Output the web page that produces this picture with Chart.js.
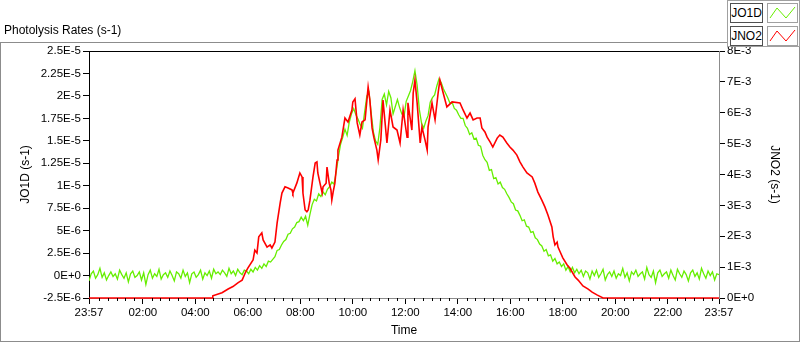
<!DOCTYPE html>
<html>
<head>
<meta charset="utf-8">
<script src="https://cdn.jsdelivr.net/npm/chart.js@4.4.1/dist/chart.umd.min.js"></script>
<style>
  body { margin: 0; background: #fff; font-family: 'Liberation Sans', Arial, sans-serif; }
  #wrap { position: relative; width: 800px; height: 342px; overflow: hidden; }
  #panel { position: absolute; left: 0; top: 42px; width: 800px; height: 300px; box-sizing: border-box; border: 1px solid #8c8c8c; }
  #c { position: absolute; left: 0; top: 0; }
  #title { position: absolute; left: 4px; top: 23px; font-size: 12px; color: #000; white-space: nowrap; }
  #legend { position: absolute; left: 727px; top: 0; width: 73px; height: 47px; box-sizing: border-box; border: 1px solid #a0a0a0; background: #fff; }
  .row { position: absolute; left: 2px; height: 20px; }
  .name { position: absolute; left: 0; top: 0; width: 33px; height: 20px; box-sizing: border-box; border: 1px solid #505050; font-size: 12px; line-height: 18px; text-align: center; color: #000; }
  .icon { position: absolute; left: 37px; top: 0; width: 31px; height: 20px; box-sizing: border-box; border: 1px solid #a0a0a0; }
  .icon svg { position: absolute; left: 0; top: 0; }
</style>
</head>
<body>
<div id="wrap">
  <div id="panel"></div>
  <canvas id="c" width="800" height="342"></canvas>
  <div id="title">Photolysis Rates (s-1)</div>
  <div id="legend">
    <div class="row" style="top:2px">
      <div class="name">JO1D</div>
      <div class="icon"><svg width="29" height="18"><polyline points="2,14 9,4 18,14 27,3" fill="none" stroke="#66ee00" stroke-width="1"/></svg></div>
    </div>
    <div class="row" style="top:25px">
      <div class="name">JNO2</div>
      <div class="icon"><svg width="29" height="18"><polyline points="2,14 9,4 18,14 27,3" fill="none" stroke="#ff0000" stroke-width="1"/></svg></div>
    </div>
  </div>
</div>
<script>
// time axis in minutes from midnight, 23:57 of previous day = -3
const timeTicks = [-3, 120, 240, 360, 480, 600, 720, 840, 960, 1080, 1200, 1320, 1437];
const timeTickLabels = ['23:57', '02:00', '04:00', '06:00', '08:00', '10:00', '12:00', '14:00', '16:00', '18:00', '20:00', '22:00', '23:57'];
const jo1dTicks = [-2.5e-6, 0, 2.5e-6, 5e-6, 7.5e-6, 1e-5, 1.25e-5, 1.5e-5, 1.75e-5, 2e-5, 2.25e-5, 2.5e-5];
const jno2Ticks = [0, 1e-3, 2e-3, 3e-3, 4e-3, 5e-3, 6e-3, 7e-3, 8e-3];

// JO1D, one value every 5 minutes from 23:57, in 1E-6 s-1
const jo1dStart = -3;
const jo1dStep = 5;
const jo1d = [
  -0.6, 0.2, 0.5, -0.3, 0.1, 0.8, -0.2, 0.3, -0.5, 0.0, 0.4, -0.1,
  0.2, -0.4, 0.6, 0.1, -0.3, 0.3, -0.7, 0.2, 0.5, -0.2, 0.0, 0.4,
  -0.5, 0.3, -1.0, 0.1, 0.6, -0.3, 0.2, -0.1, 0.7, -0.4, 0.1, 0.3,
  -0.2, 0.5, 0.0, -0.6, 0.4, 0.2, -0.3, 0.6, -0.1, 0.3, -0.8, 0.2,
  0.4, -0.2, 0.1, 0.6, -0.4, 0.3, 0.0, 0.5, -0.3, 0.7, 0.2, 0.4,
  0.1, 0.6, 0.3, -0.1, 0.8, 0.2, 0.5, 0.0, 0.7, 0.3, 0.1, 0.6,
  0.5, 0.2, 0.7, 0.4, 0.9, 0.6, 1.1, 0.8, 1.3, 1.0, 1.6, 1.5,
  1.8, 2.1, 2.8, 2.9, 3.4, 3.8, 4.0, 4.6, 4.7, 5.2, 5.4, 5.9,
  6.0, 6.5, 6.1, 6.6, 5.6, 6.8, 7.9, 8.5, 8.3, 9.1, 8.8, 9.3,
  9.0, 9.6, 9.9, 10.4, 10.2, 11.5, 13.2, 14.6, 15.4, 16.3, 15.6, 17.1,
  18.0, 18.6, 17.9, 17.4, 16.8, 16.4, 18.2, 20.0, 20.4, 18.1, 16.0, 15.0,
  14.6, 16.5, 19.6, 20.2, 19.0, 20.5, 19.8, 18.0, 18.8, 19.6, 18.7, 18.0,
  17.7, 19.4, 20.0, 20.6, 21.6, 22.8, 21.2, 18.5, 17.0, 16.4, 17.2, 17.8,
  19.3, 19.8, 20.1, 21.1, 21.9, 21.5, 20.8, 20.3, 19.8, 19.2, 19.3, 18.6,
  18.4, 17.9, 17.5, 17.5, 16.7, 16.4, 15.7, 15.9, 15.2, 15.3, 14.5, 14.4,
  13.4, 12.9, 12.6, 11.7, 11.8, 10.8, 10.9, 10.2, 10.4, 9.8, 9.6, 9.1,
  8.7, 8.2, 8.0, 7.3, 7.2, 6.7, 6.1, 6.2, 5.5, 5.4, 4.8, 4.9,
  4.2, 4.0, 3.5, 3.3, 2.7, 2.9, 2.2, 2.3, 1.6, 1.9, 1.3, 1.5,
  1.0, 1.3, 0.6, 1.0, 0.4, 0.9, 0.3, 0.7, 0.2, 0.6, -0.1, 0.5,
  0.3, -0.4, 0.5, 0.0, 0.6, -0.2, 0.2, 0.7, -0.5, 0.1, 0.4, -0.1,
  0.5, -0.3, 0.2, 0.0, 0.8, -0.2, 0.3, -0.6, 0.4, 0.1, 0.6, -0.1,
  0.2, 0.4, -0.4, 0.9, 0.1, -0.2, 0.5, -0.8, 0.3, 0.6, -0.1, 0.2,
  0.4, -0.3, 0.6, 0.0, -0.5, 0.7, 0.2, -0.2, 0.5, 0.1, -0.6, 0.3,
  0.6, -0.1, 0.3, -0.4, 0.8, 0.2, -0.3, 0.5, 0.0, 0.4, -0.5, 0.2, 0.1
];

// JNO2, minutes from midnight and value in 1E-3 s-1
const jno2Times = [-3, 279, 280, 301, 315, 326, 338, 347, 354, 360, 372, 376, 381, 385, 392, 395, 404, 411, 415, 422, 427,
  429, 434, 438, 445, 452, 461, 463, 472, 479, 484, 486, 491, 495, 498, 502, 509, 514, 518, 520, 525,
  530, 532, 539, 541, 546, 550, 552, 555, 559, 564, 566, 575, 582, 589, 598, 600, 605, 610, 616, 621,
  628, 635, 639, 644, 648, 655, 658, 664, 669, 678, 685, 692, 701, 708, 715, 724, 726, 735, 738, 742,
  747, 754, 758, 765, 770, 772, 781, 788, 795, 799, 806, 815, 827, 845, 852, 861, 868, 875, 884, 891,
  895, 902, 907, 914, 920, 930, 936, 943, 952, 959, 966, 975, 982, 989, 998, 1010, 1016, 1023, 1032, 1039,
  1046, 1055, 1058, 1062, 1067, 1069, 1074, 1080, 1090, 1096, 1108, 1115, 1126, 1138, 1147, 1158, 1172, 1437];
const jno2 = [0, 0, 0.07, 0.17, 0.29, 0.37, 0.50, 0.58, 0.81, 0.97, 1.23, 1.55, 1.46, 1.98, 2.11, 1.88, 1.65, 1.72, 1.62, 1.81, 2.43,
  2.62, 3.08, 3.40, 3.60, 3.56, 3.50, 3.40, 3.72, 4.05, 3.92, 3.40, 2.85, 2.79, 2.85, 3.17, 3.92, 4.37, 4.41, 4.05, 3.72,
  3.40, 3.60, 3.72, 4.24, 3.72, 3.50, 3.17, 3.43, 3.72, 4.47, 4.79, 5.21, 5.83, 5.70, 6.09, 6.35, 6.45, 5.67, 5.28, 5.70,
  5.77, 6.83, 6.41, 5.51, 5.21, 4.79, 4.47, 5.12, 6.41, 5.02, 6.09, 5.54, 5.44, 5.02, 6.09, 5.21, 6.32, 5.44, 6.64, 7.06,
  6.32, 5.02, 5.54, 5.12, 4.79, 5.54, 6.32, 5.77, 6.64, 7.06, 6.67, 6.19, 6.35, 6.32, 6.09, 5.83, 5.99, 5.77, 5.83, 5.83,
  5.51, 5.38, 5.21, 5.05, 4.89, 5.18, 5.28, 5.21, 5.02, 4.89, 4.79, 4.63, 4.41, 4.24, 4.05, 3.92, 3.72, 3.43, 3.17, 2.95,
  2.69, 2.30, 1.98, 1.72, 1.81, 1.65, 1.49, 1.30, 1.07, 0.97, 0.68, 0.58, 0.39, 0.29, 0.19, 0.10, 0, 0];

const tickFont = { family: 'Liberation Sans', size: 11.5 };
const titleFont = { family: 'Liberation Sans', size: 12 };

function expLabel(v) {
    return v.toExponential().toUpperCase();
}

// top border of the plot and the small ticks of the time axis
const frame = {
    id: 'frame',
    afterDraw(chart) {
        const ctx = chart.ctx;
        const a = chart.chartArea;
        const xs = chart.scales.x;
        ctx.save();
        ctx.strokeStyle = '#000';
        ctx.lineWidth = 1;
        ctx.beginPath();
        ctx.moveTo(a.left, a.top + 0.5);
        ctx.lineTo(a.right, a.top + 0.5);
        for (let m = 20; m < 1437; m += 20) {
            if (m % 120 === 0) continue;
            const x = Math.round(xs.getPixelForValue(m)) + 0.5;
            ctx.moveTo(x, a.bottom);
            ctx.lineTo(x, a.bottom + 3);
        }
        ctx.stroke();
        ctx.restore();
    }
};

new Chart(document.getElementById('c'), {
    type: 'line',
    data: {
        datasets: [{
            label: 'JO1D',
            data: jo1d.map((v, i) => ({ x: jo1dStart + i * jo1dStep, y: v * 1e-6 })),
            yAxisID: 'y',
            borderColor: '#66ee00',
            borderWidth: 1.3,
            pointRadius: 0,
            tension: 0,
            order: 2
        }, {
            label: 'JNO2',
            data: jno2.map((v, i) => ({ x: jno2Times[i], y: v * 1e-3 })),
            yAxisID: 'y1',
            borderColor: '#ff0000',
            borderWidth: 1.6,
            pointRadius: 0,
            tension: 0,
            clip: 4,
            order: 1
        }]
    },
    options: {
        responsive: false,
        animation: false,
        devicePixelRatio: 1,
        layout: { padding: { top: 51 } },
        plugins: { legend: { display: false }, tooltip: { enabled: false } },
        scales: {
            x: {
                type: 'linear',
                min: -3,
                max: 1437,
                afterBuildTicks: s => { s.ticks = timeTicks.map(v => ({ value: v })); },
                afterFit: s => { s.height = 44; },
                ticks: {
                    autoSkip: false, maxRotation: 0, color: '#000', font: tickFont, padding: 2,
                    callback: (v, i) => timeTickLabels[i]
                },
                grid: { drawOnChartArea: false, tickLength: 6, tickColor: '#000' },
                border: { color: '#8c8c8c' },
                title: { display: true, text: 'Time', color: '#000', font: titleFont, padding: 4 }
            },
            y: {
                position: 'left',
                min: -2.5e-6,
                max: 2.5e-5,
                afterBuildTicks: s => { s.ticks = jo1dTicks.map(v => ({ value: v })); },
                afterFit: s => { s.width = 89; },
                ticks: { color: '#000', font: tickFont, padding: 2, callback: v => expLabel(v) },
                grid: { drawOnChartArea: false, tickLength: 6, tickColor: '#000' },
                border: { color: '#000' },
                title: { display: true, text: 'JO1D (s-1)', color: '#000', font: titleFont, padding: 18 }
            },
            y1: {
                position: 'right',
                min: 0,
                max: 8e-3,
                afterBuildTicks: s => { s.ticks = jno2Ticks.map(v => ({ value: v })); },
                afterFit: s => { s.width = 81; },
                ticks: { color: '#000', font: tickFont, padding: 2, callback: v => expLabel(v) },
                grid: { drawOnChartArea: false, tickLength: 6, tickColor: '#000' },
                border: { color: '#8c8c8c' },
                title: { display: true, text: 'JNO2 (s-1)', color: '#000', font: titleFont, padding: 18 }
            }
        }
    },
    plugins: [frame]
});
</script>
</body>
</html>
